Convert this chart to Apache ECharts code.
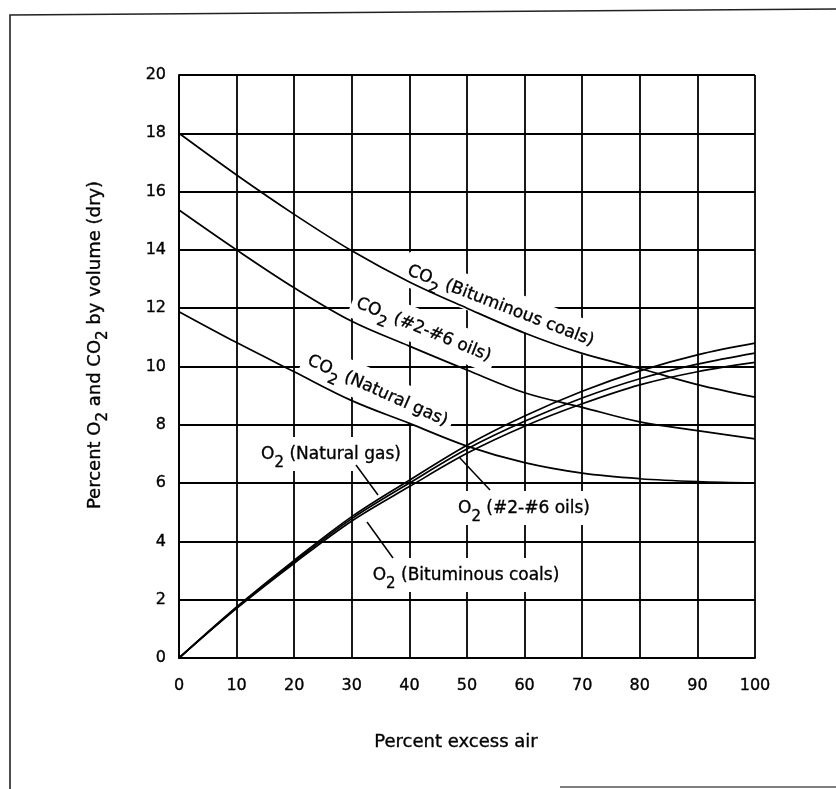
<!DOCTYPE html>
<html>
<head>
<meta charset="utf-8">
<script src="https://cdn.jsdelivr.net/npm/echarts@6/dist/echarts.min.js"></script>
<style>
  html, body { margin: 0; padding: 0; background: #fff; }
  #chart { width: 836px; height: 789px; }
</style>
</head>
<body>
<div id="chart"></div>
<script>
// Flue-gas composition versus excess air
const excessAir = [0, 10, 20, 30, 40, 50, 60, 70, 80, 90, 100];

const co2Bituminous = [18.0, 16.57, 15.22, 13.97, 12.9, 12.0, 11.15, 10.45, 9.93, 9.38, 8.95];
const co2Oils       = [15.37, 14.0, 12.7, 11.55, 10.7, 9.88, 9.1, 8.6, 8.1, 7.8, 7.52];
const co2NaturalGas = [11.88, 10.82, 9.82, 8.83, 8.05, 7.27, 6.7, 6.34, 6.15, 6.05, 6.0];

const o2NaturalGas  = [0, 1.75, 3.35, 4.85, 6.1, 7.3, 8.3, 9.15, 9.85, 10.4, 10.8];
const o2Oils        = [0, 1.72, 3.3, 4.78, 6.0, 7.17, 8.12, 8.92, 9.58, 10.08, 10.46];
const o2Bituminous  = [0, 1.7, 3.25, 4.7, 5.88, 7.02, 7.95, 8.72, 9.37, 9.82, 10.14];

const xTicks = [0, 10, 20, 30, 40, 50, 60, 70, 80, 90, 100];
const yTicks = [0, 2, 4, 6, 8, 10, 12, 14, 16, 18, 20];

const FONT = '"DejaVu Sans", "Liberation Sans", Arial, sans-serif';
const INK = '#000';

// zrender text styles: a thin stroke gives the lettering some weight
function token(size, extra) {
  return Object.assign({
    fontSize: size, fontFamily: FONT, fill: INK, stroke: INK, lineWidth: 0.35
  }, extra || {});
}
const richStyles = {
  n: token(17, { lineHeight: 32 }),
  s: token(15, { verticalAlign: 'bottom' })
};
const axisRich = {
  n: token(18, { lineHeight: 32 }),
  s: token(15, { verticalAlign: 'bottom' })
};

function pairs(values) {
  return excessAir.map((x, i) => [x, values[i]]);
}

function curve(name, values) {
  return {
    name: name,
    type: 'line',
    data: pairs(values),
    smooth: 0.35,
    showSymbol: false,
    z: 3,
    lineStyle: { color: INK, width: 1.7 },
    emphasis: { disabled: true }
  };
}

// Curve captions (gas + fuel); white boxes knock the grid out behind them
function caption(text, x, y, deg) {
  return {
    type: 'text',
    x: x, y: y,
    rotation: -deg * Math.PI / 180,
    z: 1,
    style: {
      text: text,
      rich: richStyles,
      align: 'center',
      verticalAlign: 'middle',
      backgroundColor: '#fff',
      padding: [2, 5, 0, 5]
    }
  };
}

function leader(x1, y1, x2, y2) {
  return {
    type: 'line', z: 4,
    shape: { x1: x1, y1: y1, x2: x2, y2: y2 },
    style: { stroke: INK, lineWidth: 1.5 }
  };
}

const tickLabel = {
  fontSize: 16, color: INK, fontFamily: FONT,
  textBorderColor: INK, textBorderWidth: 0.35
};

const chart = echarts.init(document.getElementById('chart'), null, { renderer: 'canvas' });

chart.setOption({
  animation: false,
  backgroundColor: '#fff',
  grid: { left: 179, right: 81, top: 75, bottom: 131 },
  xAxis: {
    type: 'value',
    min: xTicks[0], max: xTicks[xTicks.length - 1], interval: xTicks[1] - xTicks[0],
    axisLine: { show: true, lineStyle: { color: INK, width: 1.8 } },
    axisTick: { show: false },
    splitLine: { show: true, lineStyle: { color: INK, width: 1.8 } },
    axisLabel: Object.assign({ margin: 20 }, tickLabel)
  },
  yAxis: {
    type: 'value',
    min: yTicks[0], max: yTicks[yTicks.length - 1], interval: yTicks[1] - yTicks[0],
    axisLine: { show: true, lineStyle: { color: INK, width: 1.8 } },
    axisTick: { show: false },
    splitLine: { show: true, lineStyle: { color: INK, width: 1.8 } },
    axisLabel: Object.assign({ margin: 13 }, tickLabel)
  },
  series: [
    curve('CO2 Bituminous coals', co2Bituminous),
    curve('CO2 #2-#6 oils', co2Oils),
    curve('CO2 Natural gas', co2NaturalGas),
    curve('O2 Natural gas', o2NaturalGas),
    curve('O2 #2-#6 oils', o2Oils),
    curve('O2 Bituminous coals', o2Bituminous)
  ],
  graphic: [
    // page frame
    {
      type: 'polyline', z: 0,
      shape: { points: [[10, 789], [10, 15], [836, 9]] },
      style: { stroke: '#222', lineWidth: 1.6, fill: null }
    },
    {
      type: 'line', z: 0,
      shape: { x1: 560, y1: 787, x2: 836, y2: 787 },
      style: { stroke: '#555', lineWidth: 1.6 }
    },
    // axis titles
    {
      type: 'text', x: 95, y: 345, rotation: Math.PI / 2, z: 1,
      style: {
        text: '{n|Percent O}{s|2}{n| and CO}{s|2}{n| by volume (dry)}',
        rich: axisRich, align: 'center', verticalAlign: 'middle'
      }
    },
    {
      type: 'text', x: 456, y: 742, z: 1,
      style: {
        text: 'Percent excess air', fill: INK,
        stroke: INK, lineWidth: 0.35,
        font: '18px ' + FONT, align: 'center', verticalAlign: 'middle'
      }
    },
    // CO2 captions along the curves
    caption('{n|CO}{s|2}{n| (Bituminous coals)}', 501, 305, 21),
    caption('{n|CO}{s|2}{n| (#2-#6 oils)}', 424, 329, 22),
    caption('{n|CO}{s|2}{n| (Natural gas)}', 378, 390, 24),
    // O2 captions with leader lines
    caption('{n|O}{s|2}{n| (Natural gas)}', 331, 454, 0),
    caption('{n|O}{s|2}{n| (#2-#6 oils)}', 524, 508, 0),
    caption('{n|O}{s|2}{n| (Bituminous coals)}', 466, 575, 0),
    leader(356, 465, 378, 495),
    leader(459, 457, 490, 490),
    leader(367, 522, 393, 558)
  ]
});
</script>
</body>
</html>
